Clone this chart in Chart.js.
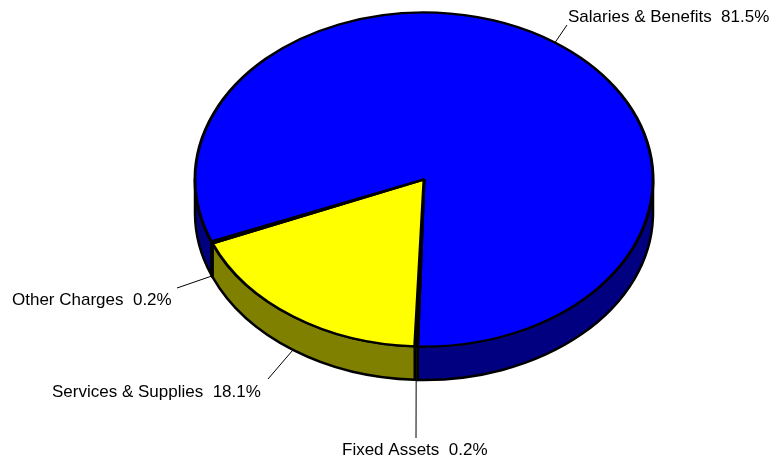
<!DOCTYPE html>
<html>
<head>
<meta charset="utf-8">
<script src="https://cdn.jsdelivr.net/npm/chart.js@4.4.0/dist/chart.umd.min.js"></script>
<style>
  html, body { margin: 0; padding: 0; background: #fff; }
  #wrap { width: 784px; height: 459px; }
</style>
</head>
<body>
<div id="wrap"><canvas id="pie" width="784" height="459"></canvas></div>
<script>
// Data (in drawing order, clockwise)
const categories = ['Salaries & Benefits', 'Fixed Assets', 'Services & Supplies', 'Other Charges'];
const shares = [81.5, 0.2, 18.1, 0.2];

// Colours: top face and darker side wall
const topColors = ['#0000ff', '#008000', '#ffff00', '#008080'];
const sideColors = ['#000080', '#004000', '#808000', '#004040'];

// Where each label sits and where its leader line ends
const labelSpots = [
  { x: 568, y: 22, lx: 567, ly: 25 },
  { x: 342, y: 455, lx: 416, ly: 438 },
  { x: 52, y: 397, lx: 268, ly: 379 },
  { x: 12, y: 305, lx: 177, ly: 288 }
];

// Tilted pie geometry on the page
const CX = 424, CY = 179.5, RX = 229, RY = 167, DEPTH = 33.5;

// parts of [a,b] that face the viewer (lower half of the ellipse)
function frontParts(a, b) {
  const parts = [];
  for (let k = -2; k <= 2; k++) {
    const lo = Math.max(a, k * 2 * Math.PI);
    const hi = Math.min(b, k * 2 * Math.PI + Math.PI);
    if (hi > lo) parts.push([lo, hi]);
  }
  return parts;
}

const tiltPlugin = {
  id: 'tilt',
  beforeDatasetsDraw(chart) {
    const ctx = chart.ctx;
    const arcs = chart.getDatasetMeta(0).data;

    // side walls first
    ctx.save();
    ctx.lineWidth = 2.5;
    ctx.strokeStyle = '#000';
    ctx.lineJoin = 'round';
    arcs.forEach((arc, i) => {
      frontParts(arc.startAngle, arc.endAngle).forEach(([lo, hi]) => {
        ctx.beginPath();
        ctx.ellipse(CX, CY, RX, RY, 0, lo, hi, false);
        ctx.ellipse(CX, CY + DEPTH, RX, RY, 0, hi, lo, true);
        ctx.closePath();
        ctx.fillStyle = sideColors[i];
        ctx.fill();
        ctx.stroke();
      });
    });
    ctx.restore();

    // squash the flat pie into the top face
    const a0 = arcs[0];
    ctx.save();
    ctx.translate(CX, CY);
    ctx.scale(RX / a0.outerRadius, RY / a0.outerRadius);
    ctx.translate(-a0.x, -a0.y);
  },
  afterDatasetsDraw(chart) {
    const ctx = chart.ctx;
    ctx.restore();

    const arcs = chart.getDatasetMeta(0).data;
    const total = shares.reduce((s, v) => s + v, 0);
    ctx.save();
    ctx.strokeStyle = '#000';
    ctx.lineWidth = 1;
    ctx.fillStyle = '#000';
    ctx.font = '17px "Liberation Sans", Arial, sans-serif';
    ctx.textBaseline = 'alphabetic';
    arcs.forEach((arc, i) => {
      const m = (arc.startAngle + arc.endAngle) / 2;
      const front = Math.sin(m) > 0;
      const px = CX + RX * Math.cos(m);
      const py = CY + RY * Math.sin(m) + (front ? DEPTH : 0);
      const spot = labelSpots[i];
      ctx.beginPath();
      ctx.moveTo(px, py);
      ctx.lineTo(spot.lx, spot.ly);
      ctx.stroke();
      const pct = (shares[i] / total * 100).toFixed(1);
      ctx.fillText(categories[i] + '  ' + pct + '%', spot.x, spot.y);
    });
    ctx.restore();
  }
};

new Chart(document.getElementById('pie'), {
  type: 'pie',
  data: {
    labels: categories,
    datasets: [{
      data: shares,
      backgroundColor: topColors,
      borderColor: '#000',
      borderWidth: 3,
      clip: false
    }]
  },
  options: {
    responsive: false,
    animation: false,
    events: [],
    rotation: 248.2,
    radius: RX,
    layout: { padding: 0 },
    plugins: {
      legend: { display: false },
      tooltip: { enabled: false }
    }
  },
  plugins: [tiltPlugin]
});
</script>
</body>
</html>
